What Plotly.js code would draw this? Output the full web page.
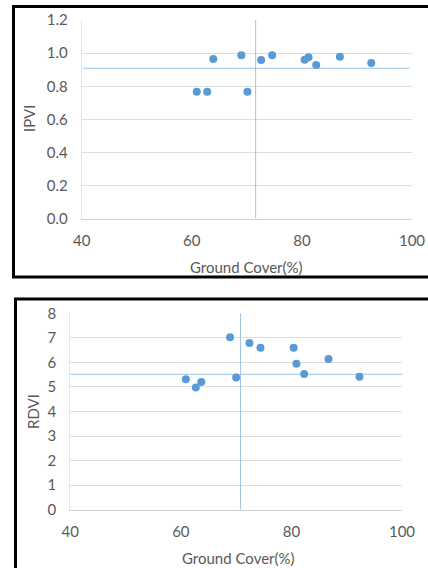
<!DOCTYPE html>
<html>
<head>
<meta charset="utf-8">
<script src="https://cdn.plot.ly/plotly-3.0.1.min.js"></script>
<style>
html,body{margin:0;padding:0;background:#fff;}
#chart{width:428px;height:568px;}
</style>
</head>
<body>
<div id="chart"></div>
<script>
// Data
var groundCoverTop = [60.9, 62.8, 63.9, 69.0, 70.1, 72.6, 74.6, 80.5, 81.2, 82.6, 86.9, 92.6];
var ipvi           = [0.768, 0.768, 0.965, 0.987, 0.768, 0.959, 0.987, 0.961, 0.975, 0.929, 0.979, 0.941];
var groundCoverBot = [60.9, 62.7, 63.7, 68.9, 70.0, 72.4, 74.4, 80.4, 80.9, 82.3, 86.7, 92.3];
var rdvi           = [5.31, 4.98, 5.20, 7.02, 5.38, 6.79, 6.60, 6.60, 5.95, 5.53, 6.14, 5.42];
var ipviMeanX = 71.6, ipviMeanY = 0.909;
var rdviMeanX = 70.8, rdviMeanY = 5.515;
var xTicks = [40, 60, 80, 100];
var ipviTicks = [0, 0.2, 0.4, 0.6, 0.8, 1.0, 1.2];
var rdviTicks = [0, 1, 2, 3, 4, 5, 6, 7, 8];

var W = 428, H = 568;
function px(x){return x / W;}
function py(y){return 1 - y / H;}

var dotColor = '#5b9bd5';
var meanColor = '#9dc3e6';
var txt = '#595959';
var font = {family: 'Lato, "Open Sans", sans-serif', size: 15, color: txt};

var traces = [
  {x: [ipviMeanX, ipviMeanX], y: [0.005, 1.205], mode: 'lines', line: {color: meanColor, width: 1}, xaxis: 'x', yaxis: 'y', hoverinfo: 'skip', showlegend: false},
  {x: [40.2, 99.6], y: [ipviMeanY, ipviMeanY], mode: 'lines', line: {color: meanColor, width: 1}, xaxis: 'x', yaxis: 'y', hoverinfo: 'skip', showlegend: false},
  {x: groundCoverTop, y: ipvi, mode: 'markers', marker: {color: dotColor, size: 8}, xaxis: 'x', yaxis: 'y', showlegend: false},
  {x: [rdviMeanX, rdviMeanX], y: [0, 8], mode: 'lines', line: {color: meanColor, width: 1}, xaxis: 'x2', yaxis: 'y2', hoverinfo: 'skip', showlegend: false},
  {x: [40, 100], y: [rdviMeanY, rdviMeanY], mode: 'lines', line: {color: meanColor, width: 1}, xaxis: 'x2', yaxis: 'y2', hoverinfo: 'skip', showlegend: false},
  {x: groundCoverBot, y: rdvi, mode: 'markers', marker: {color: dotColor, size: 8}, xaxis: 'x2', yaxis: 'y2', showlegend: false}
];

function xax(domain, anchor){
  return {domain: domain, anchor: anchor, range: [40, 100], tickvals: xTicks, ticktext: xTicks.map(String),
    showgrid: false, zeroline: false, showline: true, linecolor: '#d0d0d0', linewidth: 1,
    ticks: '', ticklabelstandoff: 8, tickfont: font, fixedrange: true};
}
function yax(domain, anchor, range, vals, fmt){
  return {domain: domain, anchor: anchor, range: range, tickvals: vals, ticktext: vals.map(function(v){return fmt(v);}),
    showgrid: true, gridcolor: '#dedede', gridwidth: 1, zeroline: false, showline: true, linecolor: '#e6e6e6', linewidth: 1,
    ticks: '', ticklabelstandoff: 10, tickfont: font, fixedrange: true};
}

var layout = {
  width: W, height: H,
  margin: {l: 0, r: 0, t: 0, b: 0},
  paper_bgcolor: '#fff', plot_bgcolor: '#fff',
  xaxis: xax([px(81.7), px(412)], 'y'),
  yaxis: yax([py(219), py(20)], 'x', [0, 1.2], ipviTicks, function(v){return v.toFixed(1);}),
  xaxis2: xax([px(70.3), px(402)], 'y2'),
  yaxis2: yax([py(509.7), py(313.3)], 'x2', [0, 8], rdviTicks, function(v){return String(v);}),
  shapes: [
    {type: 'rect', xref: 'paper', yref: 'paper', x0: px(13.5), x1: px(440), y0: py(6.5), y1: py(277), line: {color: '#000', width: 3}, fillcolor: 'rgba(0,0,0,0)'},
    {type: 'rect', xref: 'paper', yref: 'paper', x0: px(15.5), x1: px(440), y0: py(299), y1: py(590), line: {color: '#000', width: 3}, fillcolor: 'rgba(0,0,0,0)'}
  ],
  annotations: [
    {text: 'Ground Cover(%)', xref: 'paper', yref: 'paper', x: px(246.7), y: py(266.5), xanchor: 'center', yanchor: 'middle', showarrow: false, font: font},
    {text: 'IPVI', xref: 'paper', yref: 'paper', x: px(29), y: py(118), xanchor: 'center', yanchor: 'middle', textangle: -90, showarrow: false, font: font},
    {text: 'Ground Cover(%)', xref: 'paper', yref: 'paper', x: px(238.7), y: py(557.5), xanchor: 'center', yanchor: 'middle', showarrow: false, font: font},
    {text: 'RDVI', xref: 'paper', yref: 'paper', x: px(32.3), y: py(411.7), xanchor: 'center', yanchor: 'middle', textangle: -90, showarrow: false, font: font}
  ]
};

Plotly.newPlot('chart', traces, layout, {displayModeBar: false, staticPlot: true});
</script>
</body>
</html>
